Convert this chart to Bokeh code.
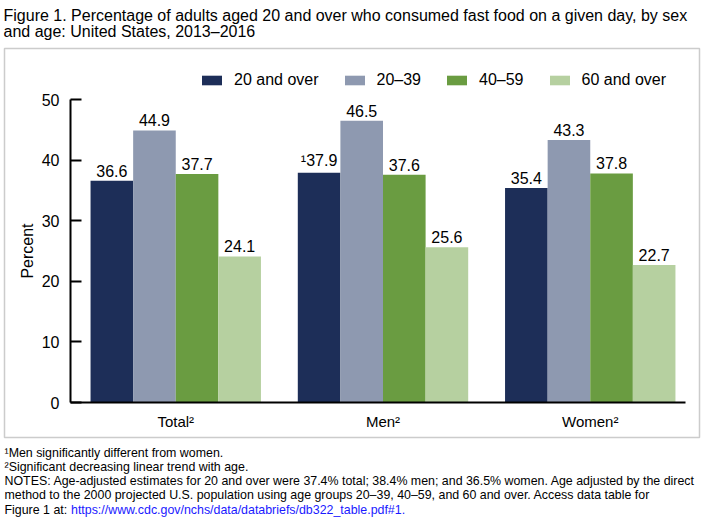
from bokeh.plotting import figure
from bokeh.models import (ColumnDataSource, Range1d, FixedTicker, Legend, LegendItem,
                          Label, BoxAnnotation)
from bokeh.core.properties import value
from bokeh.transform import dodge
from bokeh.embed import file_html
from bokeh.resources import INLINE

groups = ["Total²", "Men²", "Women²"]
series_names = ["20 and over", "20–39", "40–59", "60 and over"]
v_20_over = [36.6, 37.9, 35.4]
v_20_39 = [44.9, 46.5, 43.3]
v_40_59 = [37.7, 37.6, 37.8]
v_60_over = [24.1, 25.6, 22.7]
marks_20_over = ["", "¹", ""]
y_ticks = [0, 10, 20, 30, 40, 50]
colors = ["#1d2e58", "#8e99b0", "#6a9c41", "#b6d0a0"]

title_lines = [
    "Figure 1. Percentage of adults aged 20 and over who consumed fast food on a given day, by sex",
    "and age: United States, 2013–2016",
]
notes = [
    "¹Men significantly different from women.",
    "²Significant decreasing linear trend with age.",
    "NOTES: Age-adjusted estimates for 20 and over were 37.4% total; 38.4% men; and 36.5% women. Age adjusted by the direct",
    "method to the 2000 projected U.S. population using age groups 20–39, 40–59, and 60 and over. Access data table for",
    "Figure 1 at: ",
]
url = "https://www.cdc.gov/nchs/data/databriefs/db322_table.pdf#1."

FONT = "Liberation Sans"
NOTE_SIZE = "12.4px"

W, H = 706, 518
# pixel geometry of the canvas (layout only)
PX_PER_GROUP = 207.25
GROUP0_PX = 175.25
Y0_PX = 402.0          # y = 0 position from top
PX_PER_UNIT = 6.06
AXIS_LEFT_PX = 70
AXIS_RIGHT_PX = 685

def xdat(px):
    return (px - GROUP0_PX) / PX_PER_GROUP

def ydat(px_from_top):
    return (Y0_PX - px_from_top) / PX_PER_UNIT

p = figure(width=W, height=H, output_backend="svg", toolbar_location=None,
           x_range=Range1d(xdat(0), xdat(W)), y_range=Range1d(ydat(H), ydat(0)),
           min_border=0, min_border_left=0, min_border_right=0,
           min_border_top=0, min_border_bottom=0)
p.outline_line_color = None
p.grid.visible = False
p.background_fill_color = "white"
p.border_fill_color = "white"

gi = list(range(len(groups)))
src = ColumnDataSource(dict(
    gi=gi,
    s0=v_20_over, s1=v_20_39, s2=v_40_59, s3=v_60_over,
    t0=[m + f"{v:.1f}" for m, v in zip(marks_20_over, v_20_over)],
    t1=[f"{v:.1f}" for v in v_20_39],
    t2=[f"{v:.1f}" for v in v_40_59],
    t3=[f"{v:.1f}" for v in v_60_over],
))

bw = 42.6 / PX_PER_GROUP
offsets = [-1.5 * bw, -0.5 * bw, 0.5 * bw, 1.5 * bw]
items = []
for i in range(4):
    r = p.vbar(x=dodge("gi", offsets[i]), top=f"s{i}", width=bw,
               source=src, fill_color=colors[i], line_color=None)
    items.append(LegendItem(label=series_names[i], renderers=[r]))
    p.text(x=dodge("gi", offsets[i]), y=f"s{i}", text=f"t{i}", source=src,
           text_align="center", text_baseline="bottom", y_offset=-4,
           text_font=value(FONT), text_font_size="16px", text_color="black")

# axes
yax = p.yaxis[0]
yax.fixed_location = xdat(AXIS_LEFT_PX)
yax.bounds = (y_ticks[0], y_ticks[-1])
yax.ticker = FixedTicker(ticks=y_ticks)
yax.minor_tick_line_color = None
yax.major_tick_in = 11
yax.major_tick_out = 0
yax.major_tick_line_width = 2
yax.axis_line_width = 2
yax.axis_line_color = "black"
yax.major_tick_line_color = "black"
yax.major_label_text_font = FONT
yax.major_label_text_font_size = "16px"
yax.major_label_text_color = "black"
yax.major_label_standoff = 11
yax.axis_label = "Percent"
yax.axis_label_text_font = FONT
yax.axis_label_text_font_size = "16px"
yax.axis_label_text_font_style = "normal"
yax.axis_label_text_color = "black"
yax.axis_label_standoff = 3

xax = p.xaxis[0]
xax.fixed_location = 0
xax.bounds = (xdat(AXIS_LEFT_PX), xdat(AXIS_RIGHT_PX))
xax.ticker = FixedTicker(ticks=gi)
xax.major_label_overrides = {i: g for i, g in zip(gi, groups)}
xax.major_tick_in = 0
xax.major_tick_out = 0
xax.minor_tick_line_color = None
xax.major_tick_line_color = None
xax.axis_line_width = 2
xax.axis_line_color = "black"
xax.major_label_text_font = FONT
xax.major_label_text_font_size = "15px"
xax.major_label_text_color = "black"
xax.major_label_standoff = 10

legend = Legend(items=items, orientation="horizontal", location=(199, H - 89),
                padding=0, margin=0, spacing=23, label_standoff=10,
                glyph_width=25, glyph_height=12,
                label_text_font=FONT, label_text_font_size="16px", label_text_color="black",
                border_line_color=None, background_fill_alpha=0)
p.add_layout(legend, "center")

# box around chart area
box = BoxAnnotation(left=4, right=699, top=H - 48, bottom=H - 437,
                    left_units="screen", right_units="screen", top_units="screen", bottom_units="screen",
                    fill_alpha=0, line_color="#555555", line_width=1.5)
p.add_layout(box)

# title lines
for k, t in enumerate(title_lines):
    p.add_layout(Label(x=3, y=H - (15 + 16 * k), x_units="screen", y_units="screen", text=t,
                       text_font=FONT, text_font_size="16px", text_baseline="middle",
                       text_color="black"))

# footnotes
for k, t in enumerate(notes):
    p.add_layout(Label(x=4, y=H - (452 + 14.3 * k), x_units="screen", y_units="screen", text=t,
                       text_font=FONT, text_font_size=NOTE_SIZE, text_baseline="middle",
                       text_color="black"))
p.add_layout(Label(x=70.5, y=H - (452 + 14.3 * 4), x_units="screen", y_units="screen", text=url,
                   text_font=FONT, text_font_size=NOTE_SIZE, text_baseline="middle",
                   text_color="#1a1aff"))

open("out.html", "w").write(file_html(p, INLINE))
